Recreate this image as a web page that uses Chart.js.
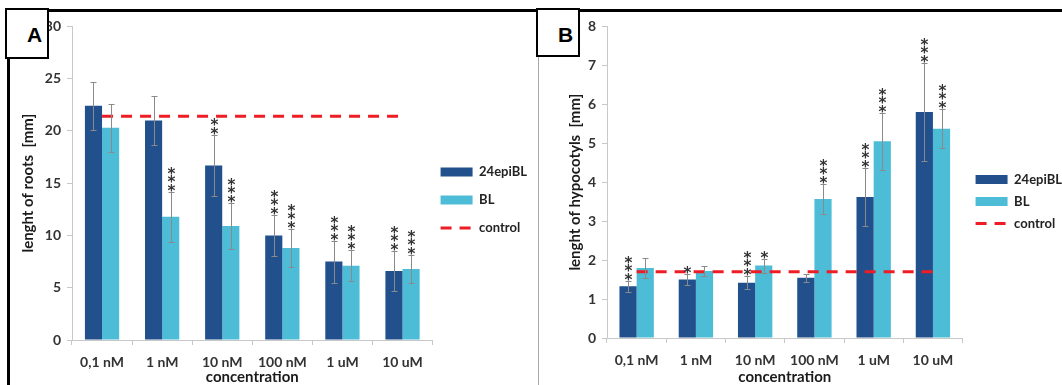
<!DOCTYPE html>
<html>
<head>
<meta charset="utf-8">
<script src="https://cdn.jsdelivr.net/npm/chart.js@4.4.1/dist/chart.umd.min.js"></script>
<style>
  body { margin: 0; width: 1062px; height: 385px; background: #fff; position: relative; overflow: hidden; }
  canvas { position: absolute; }
  #chartA { left: 10px; top: 12px; }
  #chartB { left: 540px; top: 12px; }
  .rule { position: absolute; background: #000; }
  .tag { position: absolute; box-sizing: border-box; border: 2px solid #000; background: #fff;
         font: bold 21px "Liberation Sans", Arial, sans-serif; color: #000; }
  .tag span { position: absolute; }
</style>
</head>
<body>
<canvas id="chartA" width="534" height="373"></canvas>
<canvas id="chartB" width="528" height="373"></canvas>

<!-- panel frames -->
<div class="rule" style="left:7px; top:9px; width:529px; height:3px;"></div>
<div class="rule" style="left:7px; top:9px; width:3px; height:376px;"></div>
<div class="rule" style="left:537px; top:9px; width:525px; height:3px;"></div>
<div class="rule" style="left:538px; top:56px; width:1px; height:329px; background:#a8a8a8;"></div>
<div class="tag" style="left:5px; top:8px; width:44px; height:51px;"><span style="left:20px; top:13px;">A</span></div>
<div class="tag" style="left:536px; top:8px; width:44px; height:49px;"><span style="left:20px; top:13px;">B</span></div>

<script>
const categories = ["0,1 nM", "1 nM", "10 nM", "100 nM", "1 uM", "10 uM"];

// A - length of roots [mm]
const rootsEpi = [22.4, 21.0, 16.7, 10.0, 7.5, 6.6];
const rootsEpiErr = [2.3, 2.3, 2.9, 2.0, 2.0, 1.9];
const rootsEpiStars = ["", "", "**", "***", "***", "***"];
const rootsBL = [20.3, 11.8, 10.9, 8.8, 7.1, 6.8];
const rootsBLErr = [2.3, 2.4, 2.2, 1.8, 1.5, 1.3];
const rootsBLStars = ["", "***", "***", "***", "***", "***"];
const rootsControl = [21.4, 21.4, 21.4, 21.4, 21.4, 21.4];

// B - length of hypocotyls [mm]
const hypoEpi = [1.33, 1.5, 1.42, 1.55, 3.62, 5.8];
const hypoEpiErr = [0.14, 0.14, 0.17, 0.1, 0.75, 1.25];
const hypoEpiStars = ["***", "*", "***", "", "***", "***"];
const hypoBL = [1.8, 1.72, 1.86, 3.57, 5.05, 5.37];
const hypoBLErr = [0.26, 0.14, 0.18, 0.38, 0.73, 0.5];
const hypoBLStars = ["", "", "*", "***", "***", "***"];
const hypoControl = [1.7, 1.7, 1.7, 1.7, 1.7, 1.7];

const darkBlue = "#21508c";
const lightBlue = "#4cbcd7";
const red = "#ee1c24";

Chart.defaults.font.family = "Lato";
Chart.defaults.color = "#333";

// error bars + significance stars on top of the bars
const errorStars = {
  id: "errorStars",
  afterDatasetsDraw(chart) {
    const ctx = chart.ctx;
    const y = chart.scales.y;
    chart.data.datasets.forEach((ds, i) => {
      if (!ds.errors) return;
      chart.getDatasetMeta(i).data.forEach((bar, j) => {
        const v = ds.data[j], e = ds.errors[j];
        const x = Math.round(bar.x) + 0.5;
        const top = Math.round(y.getPixelForValue(v + e)) + 0.5;
        const bot = Math.round(y.getPixelForValue(v - e)) + 0.5;
        ctx.save();
        ctx.strokeStyle = "#8a8a8a";
        ctx.lineWidth = 1;
        ctx.beginPath();
        ctx.moveTo(x, top); ctx.lineTo(x, bot);
        ctx.moveTo(x - 3, top); ctx.lineTo(x + 3, top);
        ctx.moveTo(x - 3, bot); ctx.lineTo(x + 3, bot);
        ctx.stroke();
        ctx.fillStyle = "#333";
        ctx.font = "bold 15px 'DejaVu Sans'";
        ctx.textAlign = "center";
        ctx.textBaseline = "alphabetic";
        const s = ds.stars[j];
        for (let k = 0; k < s.length; k++) {
          ctx.fillText("*", x, top - 6 - k * 8.5 + 9);
        }
        ctx.restore();
      });
    });
  }
};

// nudge the legend block a few px (the legend padding also sets the row gap)
const legendNudge = {
  id: "legendNudge",
  afterLayout(chart, args, opts) {
    const lg = chart.legend;
    if (!lg) return;
    lg.left += opts.dx; lg.right += opts.dx;
    lg.top += opts.dy; lg.bottom += opts.dy;
  }
};

function legendItems(chart) {
  const items = Chart.defaults.plugins.legend.labels.generateLabels(chart);
  items.forEach(it => {
    const ds = chart.data.datasets[it.datasetIndex];
    if (ds.type === "line") {
      it.pointStyle = "line";
      it.lineDash = ds.borderDash;
      it.lineWidth = 3;
      it.strokeStyle = ds.borderColor;
    } else {
      it.pointStyle = "rect";
      it.lineWidth = 0;
      it.fillStyle = ds.backgroundColor;
    }
  });
  return items;
}

function makeChart(id, o) {
  return new Chart(document.getElementById(id), {
    type: "bar",
    data: {
      labels: categories,
      datasets: [
        { label: "24epiBL", data: o.epi, errors: o.epiErr, stars: o.epiStars,
          backgroundColor: darkBlue, categoryPercentage: o.catPct, barPercentage: 1 },
        { label: "BL", data: o.bl, errors: o.blErr, stars: o.blStars,
          backgroundColor: lightBlue, categoryPercentage: o.catPct, barPercentage: 1 },
        { type: "line", label: "control", data: o.control, order: -1,
          borderColor: red, borderWidth: 3, borderDash: [11, 8],
          pointRadius: 0, fill: false }
      ]
    },
    options: {
      responsive: false,
      animation: false,
      layout: { padding: o.padding },
      plugins: {
        tooltip: { enabled: false },
        legendNudge: o.nudge,
        legend: {
          position: "right",
          labels: {
            usePointStyle: true,
            pointStyleWidth: 32,
            boxHeight: 9,
            padding: o.legendPad,
            color: "#222",
            font: { size: 13, weight: "bold" },
            generateLabels: legendItems,
            sort: (a, b) => a.datasetIndex - b.datasetIndex
          }
        }
      },
      scales: {
        x: {
          ticks: { color: "#333", font: { size: 14, weight: "bold" }, padding: 9 },
          grid: { drawOnChartArea: false, tickLength: 5, color: "#c8c8c8", offset: true },
          border: { color: "#c8c8c8" },
          title: { display: true, text: "concentration", color: "#1a1a1a",
                   font: { size: 15, weight: "bold", lineHeight: 1 }, padding: 0 },
          afterFit(s) { s.height = o.xHeight; }
        },
        y: {
          min: 0, max: o.max,
          ticks: { stepSize: o.step, color: "#333", font: { size: 14, weight: "bold" }, padding: 6 },
          grid: { drawOnChartArea: false, tickLength: 5, color: "#c8c8c8" },
          border: { color: "#c8c8c8" },
          title: { display: true, text: o.yTitle, color: "#1a1a1a",
                   font: { size: 15, weight: "bold" }, padding: { top: o.titlePad, bottom: 0 } },
          afterFit(s) { s.width = o.yWidth; }
        }
      }
    },
    plugins: [errorStars, legendNudge]
  });
}

makeChart("chartA", {
  epi: rootsEpi, epiErr: rootsEpiErr, epiStars: rootsEpiStars,
  bl: rootsBL, blErr: rootsBLErr, blStars: rootsBLStars,
  control: rootsControl, max: 30, step: 5,
  yTitle: "lenght of roots  [mm]", catPct: 0.57,
  padding: { top: 13, left: 0, right: 0, bottom: 0 },
  legendPad: 15, xHeight: 45, yWidth: 62, titlePad: 9,
  nudge: { dx: -7, dy: -5 }
});

makeChart("chartB", {
  epi: hypoEpi, epiErr: hypoEpiErr, epiStars: hypoEpiStars,
  bl: hypoBL, blErr: hypoBLErr, blStars: hypoBLStars,
  control: hypoControl, max: 8, step: 1,
  yTitle: "lenght of hypocotyls  [mm]", catPct: 0.58,
  padding: { top: 10, left: 20, right: 0, bottom: 0 },
  legendPad: 9, xHeight: 47, yWidth: 47, titlePad: 6,
  nudge: { dx: 4, dy: -2 }
});
</script>
</body>
</html>
